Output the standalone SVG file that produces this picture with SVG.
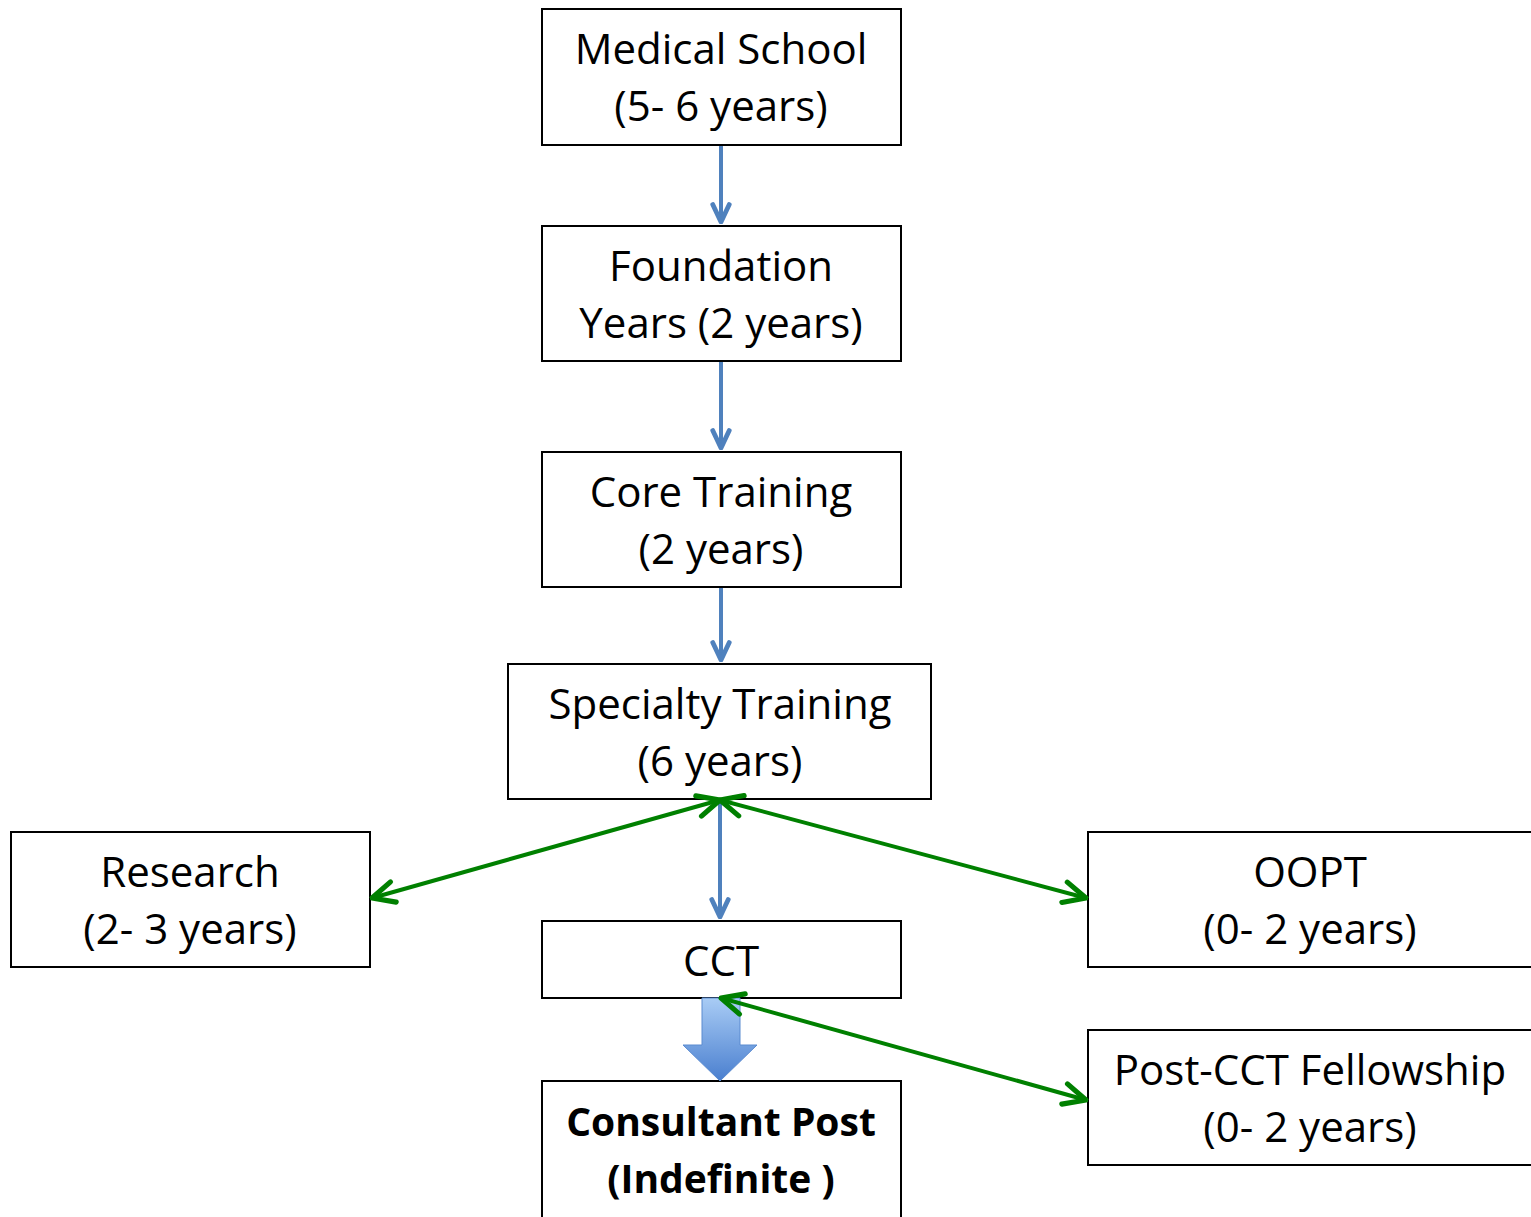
<svg xmlns="http://www.w3.org/2000/svg" width="1531" height="1217" viewBox="0 0 1531 1217">
<defs>
<style>
.box{fill:#fff;stroke:#000;stroke-width:2}
.t{font-family:"Open Sans","Noto Sans","Liberation Sans",sans-serif;font-size:42px;fill:#000;text-anchor:middle}
.b{font-weight:bold;font-size:39px}
.blue{stroke:#4f81bd;stroke-width:4;fill:none}
.green{stroke:#008000;stroke-width:4;fill:none}
</style>
<marker id="ab" viewBox="0 0 12 12" refX="11" refY="6" markerWidth="22" markerHeight="22" orient="auto" markerUnits="userSpaceOnUse">
<path d="M1.5,1.5 L11,6 L1.5,10.5" fill="none" stroke="#4f81bd" stroke-width="2.6" stroke-linecap="round" stroke-linejoin="round"/>
</marker>
<marker id="ag" viewBox="0 0 12 12" refX="11" refY="6" markerWidth="7" markerHeight="7" orient="auto-start-reverse" markerUnits="strokeWidth">
<path d="M1.5,1.5 L11,6 L1.5,10.5" fill="none" stroke="#008000" stroke-width="2.2" stroke-linecap="round" stroke-linejoin="round"/>
</marker>
<linearGradient id="bg" x1="0" y1="0" x2="0" y2="1">
<stop offset="0" stop-color="#a9ccf5"/>
<stop offset="1" stop-color="#4a7fcf"/>
</linearGradient>
</defs>
<g id="n-medical"><rect class="box" x="542" y="9" width="359" height="136"/><text class="t" x="721" y="64">Medical School</text><text class="t" x="721" y="121">(5- 6 years)</text></g>
<g id="n-foundation"><rect class="box" x="542" y="226" width="359" height="135"/><text class="t" x="721" y="281">Foundation</text><text class="t" x="721" y="338">Years (2 years)</text></g>
<g id="n-core"><rect class="box" x="542" y="452" width="359" height="135"/><text class="t" x="721" y="507">Core Training</text><text class="t" x="721" y="564">(2 years)</text></g>
<g id="n-specialty"><rect class="box" x="508" y="664" width="423" height="135"/><text class="t" x="720" y="719">Specialty Training</text><text class="t" x="720" y="776">(6 years)</text></g>
<g id="n-research"><rect class="box" x="11" y="832" width="359" height="135"/><text class="t" x="190" y="887">Research</text><text class="t" x="190" y="944">(2- 3 years)</text></g>
<g id="n-cct"><rect class="box" x="542" y="921" width="359" height="77"/><text class="t" x="721" y="976">CCT</text></g>
<g id="n-oopt"><rect class="box" x="1088" y="832" width="450" height="135"/><text class="t" x="1310" y="887">OOPT</text><text class="t" x="1310" y="944">(0- 2 years)</text></g>
<g id="n-postcct"><rect class="box" x="1088" y="1030" width="450" height="135"/><text class="t" x="1310" y="1085">Post-CCT Fellowship</text><text class="t" x="1310" y="1142">(0- 2 years)</text></g>
<g id="n-consultant"><rect class="box" x="542" y="1081" width="359" height="140"/><text class="t b" x="721" y="1136">Consultant Post</text><text class="t b" x="721" y="1193">(Indefinite )</text></g>
<g id="connectors">
<line class="blue" x1="721" y1="146" x2="721" y2="222" marker-end="url(#ab)"/>
<line class="blue" x1="721" y1="362" x2="721" y2="448" marker-end="url(#ab)"/>
<line class="blue" x1="721" y1="588" x2="721" y2="660" marker-end="url(#ab)"/>
<line class="blue" x1="720" y1="800" x2="720" y2="917" marker-end="url(#ab)"/>
<line class="green" x1="720" y1="800" x2="372" y2="898" marker-start="url(#ag)" marker-end="url(#ag)"/>
<line class="green" x1="720" y1="800" x2="1086" y2="898" marker-start="url(#ag)" marker-end="url(#ag)"/>
<path d="M702,998 L740,998 L740,1045 L757,1045 L720,1081 L683,1045 L702,1045 Z" fill="url(#bg)" stroke="#5b8bd0" stroke-width="1"/>
<line class="green" x1="721" y1="998" x2="1086" y2="1100" marker-start="url(#ag)" marker-end="url(#ag)"/>
</g>
</svg>
